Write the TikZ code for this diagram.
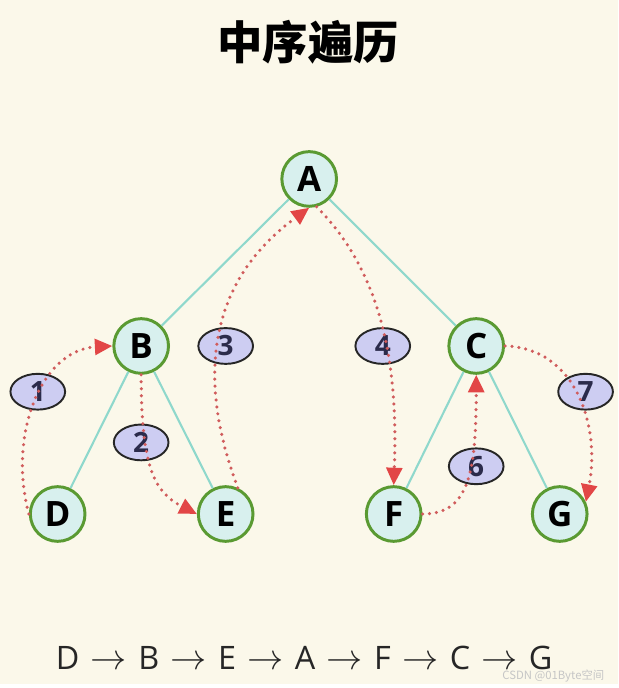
\documentclass[tikz,border=0pt]{standalone}
\usepackage{fontspec}
\setmainfont{Open Sans}
\newfontfamily\cjk{Noto Sans CJK SC}
\usetikzlibrary{shapes.geometric,arrows.meta}
\definecolor{bgcream}{HTML}{FBF8EA}
\definecolor{nodefill}{HTML}{D8F0EE}
\definecolor{nodegreen}{HTML}{5A9A32}
\definecolor{treeline}{HTML}{8FD8CC}
\definecolor{dotred}{HTML}{D05C5C}
\definecolor{tipred}{HTML}{E24646}
\definecolor{badgefill}{HTML}{CDCDF2}
\definecolor{badgetext}{HTML}{2B2B4B}
\newcommand{\seqarrow}{\hspace{0.35em}{\fontsize{20.5}{24}\selectfont$\rightarrow$}\hspace{0.35em}}
\begin{document}
\begin{tikzpicture}[x=0.02cm,y=-0.02cm,
	vert/.style={circle,draw=nodegreen,line width=1.7pt,fill=nodefill,minimum size=1.1cm,inner sep=0pt,font=\fontsize{20}{24}\selectfont\bfseries},
	badge/.style={ellipse,draw=black!85,line width=1.1pt,fill=badgefill,minimum width=1.1cm,minimum height=0.72cm,inner sep=0pt,text=badgetext,font=\fontsize{16}{18}\selectfont\bfseries},
	branch/.style={treeline,line width=1.2pt},
	walk/.style={dotred,line width=2pt,line cap=round,dash pattern=on 0pt off 4pt,-{Triangle[length=10pt,width=9pt,color=tipred]}}]
	% фон
	\fill[bgcream] (0,0) rectangle (622,688);
	\node (title) at (310,42) {\cjk\bfseries\fontsize{26}{30}\selectfont 中序遍历};
	
	% дерево
	\node[vert] (A) at (311,180) {A};
	\node[vert] (B) at (142,348) {B};
	\node[vert] (C) at (479,348) {C};
	\node[vert] (D) at (58,517) {D};
	\node[vert] (E) at (227,517) {E};
	\node[vert] (F) at (396,517) {F};
	\node[vert] (G) at (563,517) {G};
	\draw[branch] (A) -- (B);
	\draw[branch] (A) -- (C);
	\draw[branch] (B) -- (D);
	\draw[branch] (B) -- (E);
	\draw[branch] (C) -- (F);
	\draw[branch] (C) -- (G);
	
	% номера шагов
	\node[badge] (s1) at (38,394) {1};
	\node[badge] (s2) at (142,445) {2};
	\node[badge] (s3) at (227,348) {3};
	\node[badge] (s4) at (385,348) {4};
	\node[badge] (s6) at (479,469) {6};
	\node[badge] (s7) at (589,394) {7};
	
	% обход
	\draw[walk] (D.west) .. controls (8,440) and (40,352) .. (B.west);
	\draw[walk] (B.south) .. controls (142,470) and (155,495) .. (E.west);
	\draw[walk] (E.65) .. controls (203,395) and (200,290) .. (A.south);
	\draw[walk] (A.-75) .. controls (390,280) and (400,380) .. (F.north);
	\draw[walk] (F.east) .. controls (470,517) and (479,480) .. (C.south);
	\draw[walk] (C.east) .. controls (580,350) and (604,430) .. (G.25);
	
	\node[text=black!85,font=\fontsize{18.5}{22}\selectfont] (seq) at (306,662)
		{D\seqarrow B\seqarrow E\seqarrow A\seqarrow F\seqarrow C\seqarrow G};
	\node[anchor=east,text=gray!45,font=\cjk\fontsize{6.5}{8}\selectfont] (mark) at (614,680) {CSDN @01Byte空间};
\end{tikzpicture}
\end{document}
